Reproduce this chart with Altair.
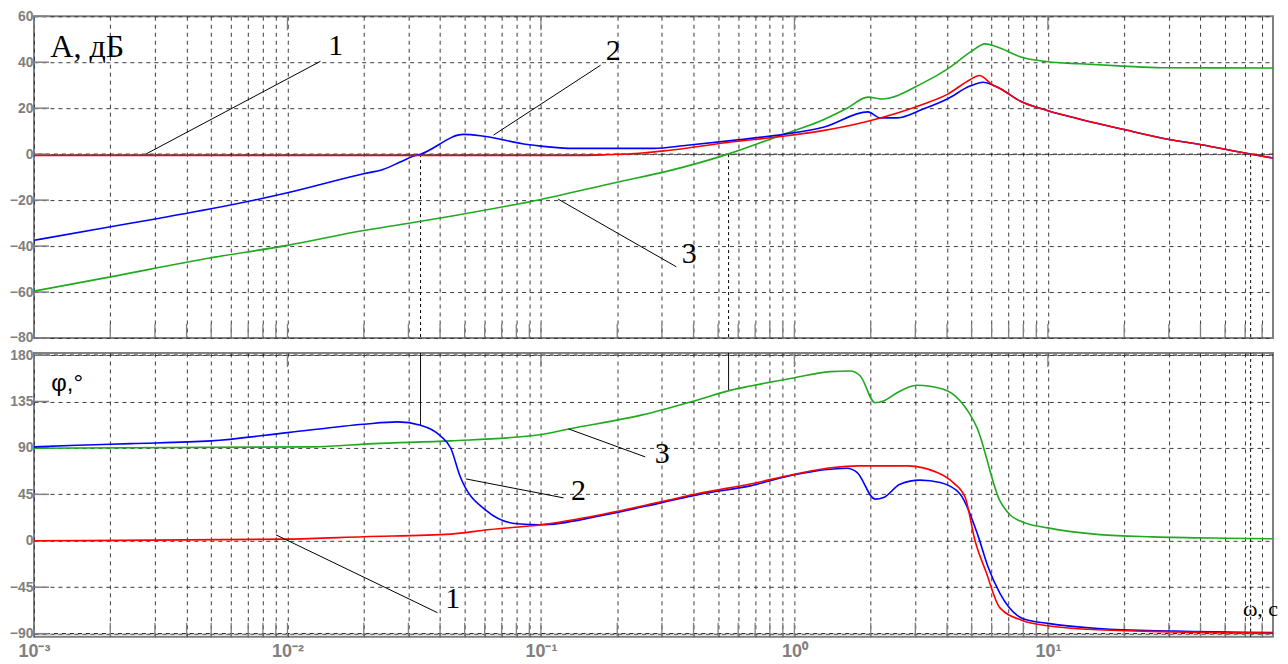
import altair as alt
import pandas as pd

# ---------------- amplitude, dB ----------------
amp1_w = [0.001, 0.135, 0.178, 0.251, 0.316, 0.574, 0.904, 1.26, 1.95, 3.22, 4.01, 4.93, 5.36, 6.08, 6.47, 7.8, 10, 13.4, 19.8, 30.1, 39.8, 59.8, 77.3]
amp1_db = [-0.6, -0.6, -0.3, 0.5, 1.6, 5.4, 7.8, 10.0, 14.3, 21.7, 26.0, 32.4, 34.2, 30.0, 28.6, 23.0, 18.9, 15.2, 10.8, 6.4, 4.2, 0.5, -1.7]

amp2_w = [0.001, 0.00198, 0.00297, 0.00499, 0.00785, 0.01, 0.02, 0.0238, 0.028, 0.0315, 0.0335, 0.0495, 0.0594, 0.0885, 0.1, 0.135, 0.278, 0.378, 0.574, 0.904, 1.3, 1.95, 2.18, 2.55, 3.22, 4.01, 4.93, 5.56, 6.08, 6.47, 7.8, 10, 13.4, 19.8, 30.1, 39.8, 59.8, 77.3]
amp2_db = [-37.5, -31.7, -28.3, -23.8, -19.4, -16.8, -8.5, -6.7, -3.3, -0.8, 0.0, 8.6, 7.8, 4.2, 3.5, 2.5, 2.5, 3.9, 6.0, 8.6, 11.7, 18.4, 15.8, 15.8, 19.6, 24.0, 29.6, 31.3, 30.0, 28.6, 23.0, 18.9, 15.2, 10.8, 6.4, 4.2, 0.5, -1.7]

amp3_w = [0.001, 0.00198, 0.00499, 0.01, 0.02, 0.028, 0.0441, 0.1, 0.2, 0.316, 0.543, 0.904, 1.26, 1.62, 1.95, 2.21, 3.22, 4.01, 5.01, 5.65, 6.47, 7.76, 10, 13.4, 19.8, 28.2, 77.3]
amp3_db = [-59.6, -53.5, -45.1, -39.7, -33.2, -30.6, -27.0, -19.7, -12.2, -7.4, -0.1, 8.6, 14.3, 20.1, 24.8, 24.0, 31.0, 37.0, 44.8, 48.0, 46.2, 42.4, 40.2, 39.3, 38.3, 37.6, 37.5]

# ---------------- phase, degrees ----------------
ph1_w = [0.001, 0.01, 0.02, 0.0441, 0.0631, 0.1, 0.17, 0.3, 0.421, 0.67, 1.0, 1.42, 1.77, 2.79, 3.66, 4.23, 4.72, 5.16, 5.7, 6.47, 7.98, 10, 13.7, 25.1, 77.3]
ph1_deg = [0, 1.6, 3.9, 6.5, 11, 15.5, 25, 38, 46, 55, 64.5, 71, 72.6, 72.6, 66.1, 56.4, 41.9, 0, -30, -65, -77.4, -82.3, -85.5, -87.8, -89.4]

ph2_w = [0.001, 0.00148, 0.00241, 0.00499, 0.01, 0.02, 0.0272, 0.0335, 0.0402, 0.0441, 0.0479, 0.0611, 0.0804, 0.1, 0.17, 0.3, 0.421, 0.67, 1.0, 1.61, 1.77, 2.08, 2.25, 2.61, 3.13, 3.76, 4.51, 5.3, 5.8, 6.47, 7.98, 10, 15.8, 31.6, 77.3]
ph2_deg = [91, 92.6, 94.2, 96.8, 104.8, 113, 115.2, 112, 101.6, 89.7, 63, 29, 16.5, 15.5, 24, 37, 45, 53.2, 64, 70.3, 66.1, 40.4, 41.9, 54.9, 58.8, 56.4, 45.2, 5, -25, -51, -75.5, -80, -85, -87.5, -89]

ph3_w = [0.001, 0.0126, 0.0219, 0.0441, 0.1, 0.129, 0.251, 0.421, 0.562, 0.67, 1.0, 1.385, 1.66, 1.82, 2.08, 2.25, 2.54, 3.04, 3.87, 4.51, 5.25, 6.47, 7.1, 8.0, 10, 16, 26, 50, 77.3]
ph3_deg = [89.7, 91, 94.2, 96.8, 103, 108.4, 122, 137, 146, 150, 158, 163.9, 164.5, 159.7, 133.8, 135.5, 143.5, 150.7, 146.8, 135.5, 109.7, 38.7, 25, 18, 12.5, 6.0, 3.8, 2.5, 2]

# ---------------- axes ----------------
x_domain = [0.001, 77.3]
amp_domain = [-80, 60]
ph_domain = [-93, 182]
amp_ticks = [-80, -60, -40, -20, 0, 20, 40, 60]
ph_ticks = [-90, -45, 0, 45, 90, 135, 180]
grid_w = [round(m * 10 ** e, 6) for e in range(-3, 2) for m in range(1, 10) if m * 10 ** e <= 77.3]
dec_vals = [0.001, 0.01, 0.1, 1, 10]
dec_labels = ["10⁻³", "10⁻²", "10⁻¹", "10⁰", "10¹"]
amp_dark = [0]
ph_dark = [180, -90]

# crossover markers
mark_w = [0.0335, 0.55, 63.1]
mark_ph_end = [112, 146, -93]

# leader lines and labels "1","2","3"
amp_lead_w = [0.00276, 0.065, 0.117]
amp_lead_v = [0, 8.3, -19.6]
amp_lead_w2 = [0.0135, 0.172, 0.342]
amp_lead_v2 = [40.4, 38.7, -49]
amp_lab_w = [0.0155, 0.193, 0.385]
amp_lab_v = [47, 44.8, -43.5]
amp_lab_t = ["1", "2", "3"]

ph_lead_w = [0.009, 0.0505, 0.1285]
ph_lead_v = [5.8, 60, 108.4]
ph_lead_w2 = [0.0391, 0.1228, 0.258]
ph_lead_v2 = [-69.7, 41.6, 81.3]
ph_lab_w = [0.0449, 0.1406, 0.301]
ph_lab_v = [-56, 48.4, 84.2]
ph_lab_t = ["1", "2", "3"]

RED, BLUE, GREEN = "#ff0000", "#0000ff", "#1faa1f"
GRAY = "#808080"
GRID = "#3a3a3a"
W, H1, H2 = 1240, 322, 284

label_expr = " : ".join(f"datum.value == {v} ? '{l}'" for v, l in zip(dec_vals, dec_labels)) + " : ''"

xs = alt.Scale(type="log", domain=x_domain, nice=False)


def x_axis(show_labels):
    kw = dict(values=grid_w, grid=True, gridDash=[4, 4], gridColor=GRID, gridWidth=1,
              ticks=False, domain=False, title=None, labelOverlap=False, labelFlush=False)
    if show_labels:
        kw.update(labels=True, labelExpr=label_expr, labelFontSize=18, labelPadding=6,
                  labelColor=GRAY, labelFont="Liberation Sans", labelFontWeight="bold")
    else:
        kw.update(labels=False)
    return alt.Axis(**kw)


def y_axis(vals):
    return alt.Axis(values=vals, grid=True, gridDash=[4, 4], gridColor=GRID, gridWidth=1,
                    ticks=False, domain=False, title=None, labelFontSize=14, labelPadding=1,
                    labelColor=GRAY, labelFont="Liberation Sans", labelFontWeight="bold")


def panel(curves, ydomain, yvals, height, dark, leads, labs, show_x, markers, extra_text):
    X = alt.X("w:Q", scale=xs, axis=x_axis(show_x))
    ys = alt.Scale(domain=ydomain, nice=False, zero=False)
    Y = alt.Y("v:Q", scale=ys, axis=y_axis(yvals))
    layers = []
    # dark horizontal dashed lines
    layers.append(alt.Chart(pd.DataFrame({"v": dark})).mark_rule(color="#000000", strokeDash=[4, 4], strokeWidth=1)
                  .encode(y=Y))
    # inward ticks
    tk = pd.DataFrame({"w": grid_w})
    layers.append(alt.Chart(tk).mark_rule(color=GRAY, strokeWidth=1.3)
                  .encode(x=X, y=alt.value(height - 14), y2=alt.value(height)))
    dk = pd.DataFrame({"w": dec_vals})
    layers.append(alt.Chart(dk).mark_rule(color=GRAY, strokeWidth=1.3)
                  .encode(x=X, y=alt.value(0), y2=alt.value(14)))
    yt = pd.DataFrame({"v": yvals})
    layers.append(alt.Chart(yt).mark_rule(color=GRAY, strokeWidth=1.5)
                  .encode(y=Y, x=alt.value(0), x2=alt.value(15)))
    # crossover markers
    for m in markers:
        df = pd.DataFrame({"w": [m[0]], "v": [m[1]], "v2": [m[2]]})
        layers.append(alt.Chart(df).mark_rule(color="#000000", strokeWidth=1, strokeDash=m[3])
                      .encode(x=X, y=Y, y2="v2:Q"))
    # curves
    for (w, v, c) in curves:
        df = pd.DataFrame({"w": w, "v": v})
        layers.append(alt.Chart(df).mark_line(color=c, strokeWidth=1.6, clip=True, interpolate="monotone")
                      .encode(x=X, y=Y))
    # leader lines
    ld = pd.DataFrame({"w": leads[0], "v": leads[1], "w2": leads[2], "v2": leads[3]})
    layers.append(alt.Chart(ld).mark_rule(color="#000000", strokeWidth=1)
                  .encode(x=X, y=Y, x2="w2:Q", y2="v2:Q"))
    lb = pd.DataFrame({"w": labs[0], "v": labs[1], "t": labs[2]})
    layers.append(alt.Chart(lb).mark_text(font="Liberation Serif", fontSize=30, color="#000000",
                                          align="center", baseline="middle")
                  .encode(x=X, y=Y, text="t:N"))
    for (w, v, t, font, size) in extra_text:
        df = pd.DataFrame({"w": [w], "v": [v], "t": [t]})
        layers.append(alt.Chart(df).mark_text(font=font, fontSize=size, color="#000000",
                                              align="left", baseline="middle")
                      .encode(x=X, y=Y, text="t:N"))
    return alt.layer(*layers).properties(width=W, height=height)


top = panel(
    curves=[(amp3_w, amp3_db, GREEN), (amp2_w, amp2_db, BLUE), (amp1_w, amp1_db, RED)],
    ydomain=amp_domain, yvals=amp_ticks, height=H1, dark=amp_dark,
    leads=(amp_lead_w, amp_lead_v, amp_lead_w2, amp_lead_v2),
    labs=(amp_lab_w, amp_lab_v, amp_lab_t), show_x=False,
    markers=[(w, 0, -80, [3, 3]) for w in mark_w],
    extra_text=[(0.00116, 46.5, "A, дБ", "Liberation Serif", 32)],
)

bottom = panel(
    curves=[(ph3_w, ph3_deg, GREEN), (ph2_w, ph2_deg, BLUE), (ph1_w, ph1_deg, RED)],
    ydomain=ph_domain, yvals=ph_ticks, height=H2, dark=ph_dark,
    leads=(ph_lead_w, ph_lead_v, ph_lead_w2, ph_lead_v2),
    labs=(ph_lab_w, ph_lab_v, ph_lab_t), show_x=True,
    markers=[(mark_w[0], 182, mark_ph_end[0], [1, 0]), (mark_w[1], 182, mark_ph_end[1], [1, 0]),
             (mark_w[2], 182, mark_ph_end[2], [3, 3])],
    extra_text=[(0.00117, 152, "φ,°", "Liberation Sans", 24),
                (58.8, -65.8, "ω, c", "Liberation Serif", 22)],
)

chart = (
    alt.vconcat(top, bottom, spacing=1)
    .properties(padding={"left": 0, "top": 0, "right": 0, "bottom": 0}, background="#ffffff")
    .configure_view(stroke=GRAY, strokeWidth=2)
)

chart.save("out.html", embed_options={"renderer": "svg", "actions": False})
